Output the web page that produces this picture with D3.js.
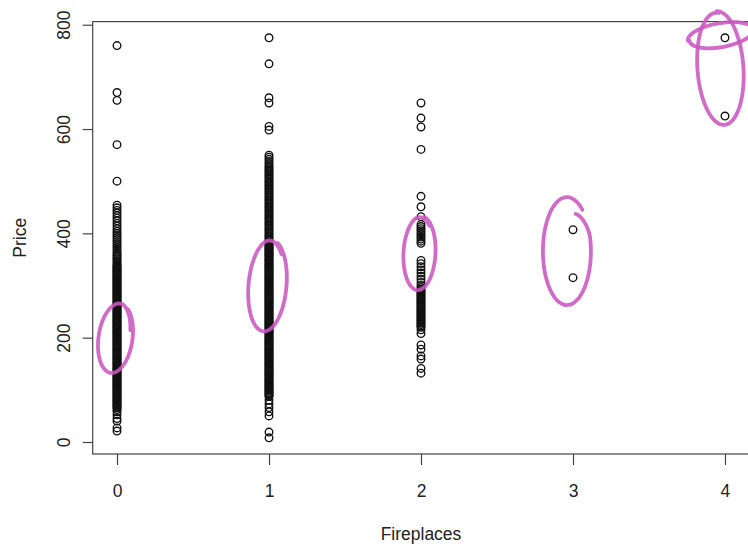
<!DOCTYPE html>
<html>
<head>
<meta charset="utf-8">
<script src="https://cdn.jsdelivr.net/npm/d3@7"></script>
<style>
  body { margin: 0; background: #fff; }
  text { font-family: "Liberation Sans", Arial, sans-serif; }
</style>
</head>
<body>
<svg width="748" height="546"></svg>
<script>
// number of fireplaces (x) and house prices in $1000s (y)
const fireplaces = [0, 1, 2, 3, 4];

const price0 = [760, 670, 655, 570, 500,
  454, 449, 444, 439, 434, 429, 424, 419, 414, 409, 404, 400, 396, 392, 388, 384, 380, 376, 372, 368,
  364, 360, 357, 354, 351, 348, 345, 342,
  339, 337, 335.5, 333, 331, 329, 327.5, 325, 323, 321, 319, 317.5, 315, 313, 311, 309, 307.5, 305,
  303, 301, 299, 297.5, 295, 293, 291, 289, 287.5, 285, 283, 281, 279, 277.5, 275, 273, 271, 269,
  267.5, 265, 263, 261, 259, 257.5, 255, 253, 251, 249, 247.5, 245, 243, 241, 239, 237.5, 235, 233,
  231, 229, 227.5, 225, 223, 221, 219, 217.5, 215, 213, 211, 209, 207.5, 205, 203, 201, 199, 197.5,
  195, 193, 191, 189, 187.5, 185, 183, 181, 179, 177.5, 175, 173, 171, 169, 167.5, 165, 163, 161,
  159, 157.5, 155, 153, 151, 149, 147.5, 145, 143, 141, 139, 137.5, 135, 133, 131, 129, 127.5, 125,
  123, 121, 119, 117.5, 115, 113, 111, 109, 107.5, 105, 103, 101, 99, 97.5, 95, 93, 91, 89, 87.5,
  85, 83, 81, 79, 77.5, 75, 73, 71, 69, 67, 65, 62,
  58, 52, 45, 40, 27, 21];

const price1 = [775, 725, 660, 650, 605, 598,
  550, 546, 542, 538, 534, 530, 527, 524, 521, 518, 515, 512, 509, 506, 503, 500, 497, 494, 491, 488,
  485, 482, 479, 476, 473, 470, 467, 464, 461, 458, 455, 452, 449, 446, 443, 440, 437, 434, 431, 428,
  425, 422, 419, 416, 413, 410, 407, 404, 401, 398, 395, 392, 389, 386, 383,
  381, 379, 377.5, 375, 373, 371, 369, 367.5, 365, 363, 361, 359, 357.5, 355, 353, 351, 349, 347.5,
  345, 343, 341, 339, 337.5, 335, 333, 331, 329, 327.5, 325, 323, 321, 319, 317.5, 315, 313, 311,
  309, 307.5, 305, 303, 301, 299, 297.5, 295, 293, 291, 289, 287.5, 285, 283, 281, 279, 277.5, 275,
  273, 271, 269, 267.5, 265, 263, 261, 259, 257.5, 255, 253, 251, 249, 247.5, 245, 243, 241, 239,
  237.5, 235, 233, 231, 229, 227.5, 225, 223, 221, 219, 217.5, 215, 213, 211, 209, 207.5, 205, 203,
  201, 199, 197.5, 195, 193, 191, 189, 187.5, 185, 183, 181, 179, 177.5, 175, 173, 171, 169, 167.5,
  165, 163, 161, 159, 157.5, 155, 153, 151, 149, 147.5, 145, 143, 141, 139, 137.5, 135, 133, 131,
  129, 127.5, 125, 123, 121, 119, 117.5, 115, 113, 111, 109, 107.5, 105, 103, 101, 99, 97.5, 95, 93,
  91, 89, 87,
  80, 73, 66, 58, 50, 19, 8];

const price2 = [650, 621, 604, 561, 471, 451, 432, 417, 413, 409, 405, 401, 397, 393, 389, 385, 381,
  348, 342, 336, 330, 324, 318, 312, 306, 300, 296, 293, 290, 287.5, 285, 282.5, 280, 277.5, 275,
  272.5, 270, 267.5, 265, 262.5, 260, 257.5, 255, 252.5, 250, 247.5, 245, 242.5, 240, 237.5, 235,
  232.5, 230, 227.5, 225, 222.5, 220, 215, 208, 186, 178, 165, 159, 141, 132];

const price3 = [407, 315];
const price4 = [775, 625];

const priceByFp = [price0, price1, price2, price3, price4];

const yTicks = [0, 200, 400, 600, 800];

// hand drawn rings (centre in data units)
const ringFp    = [-0.01, 0.99, 1.99, 2.96, 3.97, 3.97];
const ringPrice = [199, 300, 362, 366, 717, 780];

const svg = d3.select("svg");
const plotL = 92.7, plotR = 749.3, plotT = 21.6, plotB = 454;

const x = d3.scaleLinear().domain([-0.16, 4.16]).range([plotL, plotR]);
const y = d3.scaleLinear().domain([-23, 806]).range([plotB, plotT]);

const points = fireplaces.flatMap((f, i) => priceByFp[i].map(p => ({ f, p })));

svg.append("g")
  .selectAll("circle")
  .data(points)
  .enter().append("circle")
  .attr("cx", d => x(d.f))
  .attr("cy", d => y(d.p))
  .attr("r", 3.8)
  .attr("fill", "none")
  .attr("stroke", "#111")
  .attr("stroke-width", 1.35);

// frame
svg.append("rect")
  .attr("x", plotL).attr("y", plotT)
  .attr("width", plotR - plotL).attr("height", plotB - plotT)
  .attr("fill", "none")
  .attr("stroke", "#444")
  .attr("stroke-width", 1.2);

// axes
const yAxis = svg.append("g")
  .attr("transform", `translate(${plotL},0)`)
  .call(d3.axisLeft(y).tickValues(yTicks).tickSize(10).tickPadding(0));
yAxis.select(".domain").remove();
yAxis.selectAll("line").attr("stroke", "#444").attr("stroke-width", 1.2);
yAxis.selectAll("text")
  .attr("transform", "rotate(-90)")
  .attr("x", 0).attr("y", -29).attr("dy", null)
  .attr("text-anchor", "middle")
  .attr("dominant-baseline", "central")
  .attr("font-size", 17.5)
  .attr("fill", "#222")
  .style("font-family", "'Liberation Sans', Arial, sans-serif");

const xAxis = svg.append("g")
  .attr("transform", `translate(0,${plotB})`)
  .call(d3.axisBottom(x).tickValues(fireplaces).tickFormat(d3.format("d")).tickSize(11));
xAxis.select(".domain").remove();
xAxis.selectAll("line").attr("stroke", "#444").attr("stroke-width", 1.2);
xAxis.selectAll("text")
  .attr("y", 43).attr("dy", null)
  .attr("font-size", 17.5)
  .attr("fill", "#222")
  .style("font-family", "'Liberation Sans', Arial, sans-serif");

svg.append("text")
  .attr("x", (plotL + plotR) / 2).attr("y", 540)
  .attr("text-anchor", "middle")
  .attr("font-size", 17.5).attr("fill", "#222")
  .text("Fireplaces");

svg.append("text")
  .attr("transform", `translate(26,${(plotT + plotB) / 2}) rotate(-90)`)
  .attr("text-anchor", "middle")
  .attr("font-size", 17.5).attr("fill", "#222")
  .text("Price");

// magenta pen rings: kIn ramps the radius in at the pen's first touch, kOut at the lift
const ringShape = [
  { rx: 17, ry: 35, rot: 8,   start: -60, sweep: 400, kIn: 1.0,  kOut: 0.85 },
  { rx: 19, ry: 46, rot: 5,   start: -70, sweep: 380, kIn: 1.0,  kOut: 0.92 },
  { rx: 16, ry: 37, rot: 3,   start: -80, sweep: 385, kIn: 1.0,  kOut: 0.92 },
  { rx: 24, ry: 54, rot: 0,   start: -62, sweep: 372, kIn: 0.78, kOut: 1.0 },
  { rx: 23, ry: 57, rot: -4,  start: -90, sweep: 365, kIn: 1.0,  kOut: 0.97 },
  { rx: 33, ry: 12, rot: -10, start: 180, sweep: 360, kIn: 1.0,  kOut: 0.95 }
];

const pen = d3.line().curve(d3.curveBasis);

ringShape.forEach((s, i) => {
  const cx = x(ringFp[i]), cy = y(ringPrice[i]);
  const rot = s.rot * Math.PI / 180;
  const pts = d3.range(0, 1.0001, 1 / 90).map(u => {
    const a = (s.start + u * s.sweep) * Math.PI / 180;
    let k = 1;
    if (u < 0.12) k = s.kIn + (1 - s.kIn) * (u / 0.12);
    if (u > 0.85) k = 1 + (s.kOut - 1) * ((u - 0.85) / 0.15);
    const ex = s.rx * k * Math.cos(a), ey = s.ry * k * Math.sin(a);
    return [cx + ex * Math.cos(rot) - ey * Math.sin(rot),
            cy + ex * Math.sin(rot) + ey * Math.cos(rot)];
  });
  svg.append("path")
    .attr("d", pen(pts))
    .attr("fill", "none")
    .attr("stroke", "#c957c0")
    .attr("stroke-opacity", 0.88)
    .attr("stroke-width", 3.8)
    .attr("stroke-linecap", "round");
});
</script>
</body>
</html>
